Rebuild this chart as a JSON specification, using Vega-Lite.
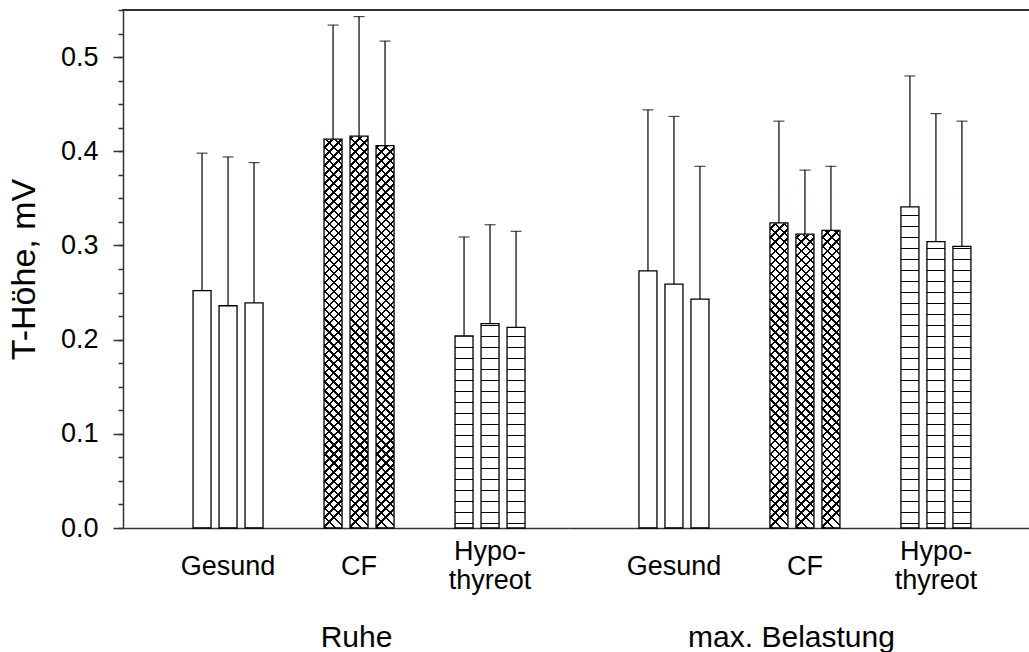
{
"$schema": "https://vega.github.io/schema/vega-lite/v6.json",
"padding": {"left": 7, "top": 8, "right": 0, "bottom": 0},
"spacing": 0,
"bounds": "flush",
"config": {"font": "Liberation Sans", "view": {"stroke": null}, "axis": {"labelColor": "#000", "titleColor": "#000", "grid": false, "titleFontWeight": "normal"}},
"data": {"values": [
{"phase":"Ruhe","group":"Gesund","series":1,"mean":0.252,"upper":0.398},
{"phase":"Ruhe","group":"Gesund","series":2,"mean":0.236,"upper":0.394},
{"phase":"Ruhe","group":"Gesund","series":3,"mean":0.239,"upper":0.388},
{"phase":"Ruhe","group":"CF","series":1,"mean":0.413,"upper":0.534},
{"phase":"Ruhe","group":"CF","series":2,"mean":0.416,"upper":0.543},
{"phase":"Ruhe","group":"CF","series":3,"mean":0.406,"upper":0.517},
{"phase":"Ruhe","group":"Hypothyreot","series":1,"mean":0.204,"upper":0.309},
{"phase":"Ruhe","group":"Hypothyreot","series":2,"mean":0.217,"upper":0.322},
{"phase":"Ruhe","group":"Hypothyreot","series":3,"mean":0.213,"upper":0.315},
{"phase":"max. Belastung","group":"Gesund","series":1,"mean":0.273,"upper":0.444},
{"phase":"max. Belastung","group":"Gesund","series":2,"mean":0.259,"upper":0.437},
{"phase":"max. Belastung","group":"Gesund","series":3,"mean":0.243,"upper":0.384},
{"phase":"max. Belastung","group":"CF","series":1,"mean":0.324,"upper":0.432},
{"phase":"max. Belastung","group":"CF","series":2,"mean":0.312,"upper":0.380},
{"phase":"max. Belastung","group":"CF","series":3,"mean":0.316,"upper":0.384},
{"phase":"max. Belastung","group":"Hypothyreot","series":1,"mean":0.341,"upper":0.480},
{"phase":"max. Belastung","group":"Hypothyreot","series":2,"mean":0.304,"upper":0.440},
{"phase":"max. Belastung","group":"Hypothyreot","series":3,"mean":0.299,"upper":0.432}
]},
"resolve": {"scale": {"x": "independent"}},
"hconcat": [
{
"width": 446, "height": 518,
"transform": [{"filter": "datum.phase == 'Ruhe'"}],
"resolve": {"axis": {"x": "independent", "y": "independent"}},
"layer": [
{"transform": [{"filter": "datum.group == 'CF'"}],
 "mark": {"type": "bar", "fill": {"gradient": "linear", "x1": 0, "y1": 1, "x2": 0.03475, "y2": 0, "stops": [
{"offset":0.0027,"color":"#fff"},{"offset":0.0027,"color":"#000"},{"offset":0.0073,"color":"#000"},{"offset":0.0073,"color":"#fff"},
{"offset":0.0201,"color":"#fff"},{"offset":0.0201,"color":"#000"},{"offset":0.0247,"color":"#000"},{"offset":0.0247,"color":"#fff"},
{"offset":0.0375,"color":"#fff"},{"offset":0.0375,"color":"#000"},{"offset":0.0421,"color":"#000"},{"offset":0.0421,"color":"#fff"},
{"offset":0.0549,"color":"#fff"},{"offset":0.0549,"color":"#000"},{"offset":0.0595,"color":"#000"},{"offset":0.0595,"color":"#fff"},
{"offset":0.0723,"color":"#fff"},{"offset":0.0723,"color":"#000"},{"offset":0.0769,"color":"#000"},{"offset":0.0769,"color":"#fff"},
{"offset":0.0897,"color":"#fff"},{"offset":0.0897,"color":"#000"},{"offset":0.0943,"color":"#000"},{"offset":0.0943,"color":"#fff"},
{"offset":0.1071,"color":"#fff"},{"offset":0.1071,"color":"#000"},{"offset":0.1117,"color":"#000"},{"offset":0.1117,"color":"#fff"},
{"offset":0.1245,"color":"#fff"},{"offset":0.1245,"color":"#000"},{"offset":0.1291,"color":"#000"},{"offset":0.1291,"color":"#fff"},
{"offset":0.1419,"color":"#fff"},{"offset":0.1419,"color":"#000"},{"offset":0.1465,"color":"#000"},{"offset":0.1465,"color":"#fff"},
{"offset":0.1593,"color":"#fff"},{"offset":0.1593,"color":"#000"},{"offset":0.1639,"color":"#000"},{"offset":0.1639,"color":"#fff"},
{"offset":0.1767,"color":"#fff"},{"offset":0.1767,"color":"#000"},{"offset":0.1813,"color":"#000"},{"offset":0.1813,"color":"#fff"},
{"offset":0.1941,"color":"#fff"},{"offset":0.1941,"color":"#000"},{"offset":0.1987,"color":"#000"},{"offset":0.1987,"color":"#fff"},
{"offset":0.2115,"color":"#fff"},{"offset":0.2115,"color":"#000"},{"offset":0.2161,"color":"#000"},{"offset":0.2161,"color":"#fff"},
{"offset":0.2289,"color":"#fff"},{"offset":0.2289,"color":"#000"},{"offset":0.2335,"color":"#000"},{"offset":0.2335,"color":"#fff"},
{"offset":0.2463,"color":"#fff"},{"offset":0.2463,"color":"#000"},{"offset":0.2509,"color":"#000"},{"offset":0.2509,"color":"#fff"},
{"offset":0.2637,"color":"#fff"},{"offset":0.2637,"color":"#000"},{"offset":0.2683,"color":"#000"},{"offset":0.2683,"color":"#fff"},
{"offset":0.2811,"color":"#fff"},{"offset":0.2811,"color":"#000"},{"offset":0.2857,"color":"#000"},{"offset":0.2857,"color":"#fff"},
{"offset":0.2985,"color":"#fff"},{"offset":0.2985,"color":"#000"},{"offset":0.3031,"color":"#000"},{"offset":0.3031,"color":"#fff"},
{"offset":0.3159,"color":"#fff"},{"offset":0.3159,"color":"#000"},{"offset":0.3205,"color":"#000"},{"offset":0.3205,"color":"#fff"},
{"offset":0.3333,"color":"#fff"},{"offset":0.3333,"color":"#000"},{"offset":0.3379,"color":"#000"},{"offset":0.3379,"color":"#fff"},
{"offset":0.3507,"color":"#fff"},{"offset":0.3507,"color":"#000"},{"offset":0.3553,"color":"#000"},{"offset":0.3553,"color":"#fff"},
{"offset":0.3681,"color":"#fff"},{"offset":0.3681,"color":"#000"},{"offset":0.3727,"color":"#000"},{"offset":0.3727,"color":"#fff"},
{"offset":0.3855,"color":"#fff"},{"offset":0.3855,"color":"#000"},{"offset":0.3901,"color":"#000"},{"offset":0.3901,"color":"#fff"},
{"offset":0.4029,"color":"#fff"},{"offset":0.4029,"color":"#000"},{"offset":0.4075,"color":"#000"},{"offset":0.4075,"color":"#fff"},
{"offset":0.4203,"color":"#fff"},{"offset":0.4203,"color":"#000"},{"offset":0.4249,"color":"#000"},{"offset":0.4249,"color":"#fff"},
{"offset":0.4377,"color":"#fff"},{"offset":0.4377,"color":"#000"},{"offset":0.4423,"color":"#000"},{"offset":0.4423,"color":"#fff"},
{"offset":0.4551,"color":"#fff"},{"offset":0.4551,"color":"#000"},{"offset":0.4597,"color":"#000"},{"offset":0.4597,"color":"#fff"},
{"offset":0.4725,"color":"#fff"},{"offset":0.4725,"color":"#000"},{"offset":0.4771,"color":"#000"},{"offset":0.4771,"color":"#fff"},
{"offset":0.4899,"color":"#fff"},{"offset":0.4899,"color":"#000"},{"offset":0.4945,"color":"#000"},{"offset":0.4945,"color":"#fff"},
{"offset":0.5073,"color":"#fff"},{"offset":0.5073,"color":"#000"},{"offset":0.5119,"color":"#000"},{"offset":0.5119,"color":"#fff"},
{"offset":0.5247,"color":"#fff"},{"offset":0.5247,"color":"#000"},{"offset":0.5293,"color":"#000"},{"offset":0.5293,"color":"#fff"},
{"offset":0.5421,"color":"#fff"},{"offset":0.5421,"color":"#000"},{"offset":0.5467,"color":"#000"},{"offset":0.5467,"color":"#fff"},
{"offset":0.5595,"color":"#fff"},{"offset":0.5595,"color":"#000"},{"offset":0.5641,"color":"#000"},{"offset":0.5641,"color":"#fff"},
{"offset":0.5769,"color":"#fff"},{"offset":0.5769,"color":"#000"},{"offset":0.5815,"color":"#000"},{"offset":0.5815,"color":"#fff"},
{"offset":0.5943,"color":"#fff"},{"offset":0.5943,"color":"#000"},{"offset":0.5989,"color":"#000"},{"offset":0.5989,"color":"#fff"},
{"offset":0.6117,"color":"#fff"},{"offset":0.6117,"color":"#000"},{"offset":0.6163,"color":"#000"},{"offset":0.6163,"color":"#fff"},
{"offset":0.6291,"color":"#fff"},{"offset":0.6291,"color":"#000"},{"offset":0.6337,"color":"#000"},{"offset":0.6337,"color":"#fff"},
{"offset":0.6465,"color":"#fff"},{"offset":0.6465,"color":"#000"},{"offset":0.6511,"color":"#000"},{"offset":0.6511,"color":"#fff"},
{"offset":0.6639,"color":"#fff"},{"offset":0.6639,"color":"#000"},{"offset":0.6685,"color":"#000"},{"offset":0.6685,"color":"#fff"},
{"offset":0.6813,"color":"#fff"},{"offset":0.6813,"color":"#000"},{"offset":0.6859,"color":"#000"},{"offset":0.6859,"color":"#fff"},
{"offset":0.6987,"color":"#fff"},{"offset":0.6987,"color":"#000"},{"offset":0.7033,"color":"#000"},{"offset":0.7033,"color":"#fff"},
{"offset":0.7161,"color":"#fff"},{"offset":0.7161,"color":"#000"},{"offset":0.7207,"color":"#000"},{"offset":0.7207,"color":"#fff"},
{"offset":0.7335,"color":"#fff"},{"offset":0.7335,"color":"#000"},{"offset":0.7381,"color":"#000"},{"offset":0.7381,"color":"#fff"},
{"offset":0.7509,"color":"#fff"},{"offset":0.7509,"color":"#000"},{"offset":0.7555,"color":"#000"},{"offset":0.7555,"color":"#fff"},
{"offset":0.7683,"color":"#fff"},{"offset":0.7683,"color":"#000"},{"offset":0.7729,"color":"#000"},{"offset":0.7729,"color":"#fff"},
{"offset":0.7857,"color":"#fff"},{"offset":0.7857,"color":"#000"},{"offset":0.7903,"color":"#000"},{"offset":0.7903,"color":"#fff"},
{"offset":0.8031,"color":"#fff"},{"offset":0.8031,"color":"#000"},{"offset":0.8077,"color":"#000"},{"offset":0.8077,"color":"#fff"}
]}},
 "encoding": {
  "x": {"field": "group", "type": "nominal", "scale": {"domain": ["Gesund","CF","Hypothyreot"], "paddingInner": 0.4046, "paddingOuter": 0.4046, "align": 0.623}, "axis": null},
  "xOffset": {"field": "series", "type": "nominal", "scale": {"paddingInner": 0.3077, "paddingOuter": 0.1538}},
  "y": {"datum": 0.55, "type": "quantitative", "scale": {"domain": [0, 0.55], "nice": false, "zero": true}, "axis": null},
  "y2": {"datum": 0}
 }},
{"transform": [{"filter": "datum.group == 'CF'"}],
 "mark": {"type": "bar", "fill": {"gradient": "linear", "x1": 0, "y1": 0, "x2": 0.03475, "y2": 1, "stops": [
{"offset":0.2289,"color":"transparent"},{"offset":0.2289,"color":"#000"},{"offset":0.2335,"color":"#000"},{"offset":0.2335,"color":"transparent"},
{"offset":0.2463,"color":"transparent"},{"offset":0.2463,"color":"#000"},{"offset":0.2509,"color":"#000"},{"offset":0.2509,"color":"transparent"},
{"offset":0.2637,"color":"transparent"},{"offset":0.2637,"color":"#000"},{"offset":0.2683,"color":"#000"},{"offset":0.2683,"color":"transparent"},
{"offset":0.2811,"color":"transparent"},{"offset":0.2811,"color":"#000"},{"offset":0.2857,"color":"#000"},{"offset":0.2857,"color":"transparent"},
{"offset":0.2985,"color":"transparent"},{"offset":0.2985,"color":"#000"},{"offset":0.3031,"color":"#000"},{"offset":0.3031,"color":"transparent"},
{"offset":0.3159,"color":"transparent"},{"offset":0.3159,"color":"#000"},{"offset":0.3205,"color":"#000"},{"offset":0.3205,"color":"transparent"},
{"offset":0.3333,"color":"transparent"},{"offset":0.3333,"color":"#000"},{"offset":0.3379,"color":"#000"},{"offset":0.3379,"color":"transparent"},
{"offset":0.3507,"color":"transparent"},{"offset":0.3507,"color":"#000"},{"offset":0.3553,"color":"#000"},{"offset":0.3553,"color":"transparent"},
{"offset":0.3681,"color":"transparent"},{"offset":0.3681,"color":"#000"},{"offset":0.3727,"color":"#000"},{"offset":0.3727,"color":"transparent"},
{"offset":0.3855,"color":"transparent"},{"offset":0.3855,"color":"#000"},{"offset":0.3901,"color":"#000"},{"offset":0.3901,"color":"transparent"},
{"offset":0.4029,"color":"transparent"},{"offset":0.4029,"color":"#000"},{"offset":0.4075,"color":"#000"},{"offset":0.4075,"color":"transparent"},
{"offset":0.4203,"color":"transparent"},{"offset":0.4203,"color":"#000"},{"offset":0.4249,"color":"#000"},{"offset":0.4249,"color":"transparent"},
{"offset":0.4377,"color":"transparent"},{"offset":0.4377,"color":"#000"},{"offset":0.4423,"color":"#000"},{"offset":0.4423,"color":"transparent"},
{"offset":0.4551,"color":"transparent"},{"offset":0.4551,"color":"#000"},{"offset":0.4597,"color":"#000"},{"offset":0.4597,"color":"transparent"},
{"offset":0.4725,"color":"transparent"},{"offset":0.4725,"color":"#000"},{"offset":0.4771,"color":"#000"},{"offset":0.4771,"color":"transparent"},
{"offset":0.4899,"color":"transparent"},{"offset":0.4899,"color":"#000"},{"offset":0.4945,"color":"#000"},{"offset":0.4945,"color":"transparent"},
{"offset":0.5073,"color":"transparent"},{"offset":0.5073,"color":"#000"},{"offset":0.5119,"color":"#000"},{"offset":0.5119,"color":"transparent"},
{"offset":0.5247,"color":"transparent"},{"offset":0.5247,"color":"#000"},{"offset":0.5293,"color":"#000"},{"offset":0.5293,"color":"transparent"},
{"offset":0.5421,"color":"transparent"},{"offset":0.5421,"color":"#000"},{"offset":0.5467,"color":"#000"},{"offset":0.5467,"color":"transparent"},
{"offset":0.5595,"color":"transparent"},{"offset":0.5595,"color":"#000"},{"offset":0.5641,"color":"#000"},{"offset":0.5641,"color":"transparent"},
{"offset":0.5769,"color":"transparent"},{"offset":0.5769,"color":"#000"},{"offset":0.5815,"color":"#000"},{"offset":0.5815,"color":"transparent"},
{"offset":0.5943,"color":"transparent"},{"offset":0.5943,"color":"#000"},{"offset":0.5989,"color":"#000"},{"offset":0.5989,"color":"transparent"},
{"offset":0.6117,"color":"transparent"},{"offset":0.6117,"color":"#000"},{"offset":0.6163,"color":"#000"},{"offset":0.6163,"color":"transparent"},
{"offset":0.6291,"color":"transparent"},{"offset":0.6291,"color":"#000"},{"offset":0.6337,"color":"#000"},{"offset":0.6337,"color":"transparent"},
{"offset":0.6465,"color":"transparent"},{"offset":0.6465,"color":"#000"},{"offset":0.6511,"color":"#000"},{"offset":0.6511,"color":"transparent"},
{"offset":0.6639,"color":"transparent"},{"offset":0.6639,"color":"#000"},{"offset":0.6685,"color":"#000"},{"offset":0.6685,"color":"transparent"},
{"offset":0.6813,"color":"transparent"},{"offset":0.6813,"color":"#000"},{"offset":0.6859,"color":"#000"},{"offset":0.6859,"color":"transparent"},
{"offset":0.6987,"color":"transparent"},{"offset":0.6987,"color":"#000"},{"offset":0.7033,"color":"#000"},{"offset":0.7033,"color":"transparent"},
{"offset":0.7161,"color":"transparent"},{"offset":0.7161,"color":"#000"},{"offset":0.7207,"color":"#000"},{"offset":0.7207,"color":"transparent"},
{"offset":0.7335,"color":"transparent"},{"offset":0.7335,"color":"#000"},{"offset":0.7381,"color":"#000"},{"offset":0.7381,"color":"transparent"},
{"offset":0.7509,"color":"transparent"},{"offset":0.7509,"color":"#000"},{"offset":0.7555,"color":"#000"},{"offset":0.7555,"color":"transparent"},
{"offset":0.7683,"color":"transparent"},{"offset":0.7683,"color":"#000"},{"offset":0.7729,"color":"#000"},{"offset":0.7729,"color":"transparent"},
{"offset":0.7857,"color":"transparent"},{"offset":0.7857,"color":"#000"},{"offset":0.7903,"color":"#000"},{"offset":0.7903,"color":"transparent"},
{"offset":0.8031,"color":"transparent"},{"offset":0.8031,"color":"#000"},{"offset":0.8077,"color":"#000"},{"offset":0.8077,"color":"transparent"},
{"offset":0.8205,"color":"transparent"},{"offset":0.8205,"color":"#000"},{"offset":0.8251,"color":"#000"},{"offset":0.8251,"color":"transparent"},
{"offset":0.8379,"color":"transparent"},{"offset":0.8379,"color":"#000"},{"offset":0.8425,"color":"#000"},{"offset":0.8425,"color":"transparent"},
{"offset":0.8553,"color":"transparent"},{"offset":0.8553,"color":"#000"},{"offset":0.8599,"color":"#000"},{"offset":0.8599,"color":"transparent"},
{"offset":0.8727,"color":"transparent"},{"offset":0.8727,"color":"#000"},{"offset":0.8773,"color":"#000"},{"offset":0.8773,"color":"transparent"},
{"offset":0.8901,"color":"transparent"},{"offset":0.8901,"color":"#000"},{"offset":0.8947,"color":"#000"},{"offset":0.8947,"color":"transparent"},
{"offset":0.9075,"color":"transparent"},{"offset":0.9075,"color":"#000"},{"offset":0.9121,"color":"#000"},{"offset":0.9121,"color":"transparent"},
{"offset":0.9249,"color":"transparent"},{"offset":0.9249,"color":"#000"},{"offset":0.9295,"color":"#000"},{"offset":0.9295,"color":"transparent"},
{"offset":0.9423,"color":"transparent"},{"offset":0.9423,"color":"#000"},{"offset":0.9469,"color":"#000"},{"offset":0.9469,"color":"transparent"},
{"offset":0.9597,"color":"transparent"},{"offset":0.9597,"color":"#000"},{"offset":0.9643,"color":"#000"},{"offset":0.9643,"color":"transparent"},
{"offset":0.9771,"color":"transparent"},{"offset":0.9771,"color":"#000"},{"offset":0.9817,"color":"#000"},{"offset":0.9817,"color":"transparent"},
{"offset":0.9945,"color":"transparent"},{"offset":0.9945,"color":"#000"},{"offset":0.9991,"color":"#000"},{"offset":0.9991,"color":"transparent"}
]}},
 "encoding": {
  "x": {"field": "group", "type": "nominal", "scale": {"domain": ["Gesund","CF","Hypothyreot"], "paddingInner": 0.4046, "paddingOuter": 0.4046, "align": 0.623}, "axis": null},
  "xOffset": {"field": "series", "type": "nominal", "scale": {"paddingInner": 0.3077, "paddingOuter": 0.1538}},
  "y": {"datum": 0.55, "type": "quantitative", "scale": {"domain": [0, 0.55], "nice": false, "zero": true}, "axis": null},
  "y2": {"datum": 0}
 }},
{"transform": [{"filter": "datum.group == 'Hypothyreot'"}],
 "mark": {"type": "bar", "fill": {"gradient": "linear", "x1": 0, "y1": 0, "x2": 0, "y2": 1, "stops": [
{"offset":0.5656,"color":"#fff"},{"offset":0.5656,"color":"#000"},{"offset":0.5682,"color":"#000"},{"offset":0.5682,"color":"#fff"},
{"offset":0.5868,"color":"#fff"},{"offset":0.5868,"color":"#000"},{"offset":0.5894,"color":"#000"},{"offset":0.5894,"color":"#fff"},
{"offset":0.6080,"color":"#fff"},{"offset":0.6080,"color":"#000"},{"offset":0.6106,"color":"#000"},{"offset":0.6106,"color":"#fff"},
{"offset":0.6292,"color":"#fff"},{"offset":0.6292,"color":"#000"},{"offset":0.6318,"color":"#000"},{"offset":0.6318,"color":"#fff"},
{"offset":0.6504,"color":"#fff"},{"offset":0.6504,"color":"#000"},{"offset":0.6530,"color":"#000"},{"offset":0.6530,"color":"#fff"},
{"offset":0.6716,"color":"#fff"},{"offset":0.6716,"color":"#000"},{"offset":0.6742,"color":"#000"},{"offset":0.6742,"color":"#fff"},
{"offset":0.6928,"color":"#fff"},{"offset":0.6928,"color":"#000"},{"offset":0.6954,"color":"#000"},{"offset":0.6954,"color":"#fff"},
{"offset":0.7140,"color":"#fff"},{"offset":0.7140,"color":"#000"},{"offset":0.7166,"color":"#000"},{"offset":0.7166,"color":"#fff"},
{"offset":0.7352,"color":"#fff"},{"offset":0.7352,"color":"#000"},{"offset":0.7378,"color":"#000"},{"offset":0.7378,"color":"#fff"},
{"offset":0.7564,"color":"#fff"},{"offset":0.7564,"color":"#000"},{"offset":0.7590,"color":"#000"},{"offset":0.7590,"color":"#fff"},
{"offset":0.7776,"color":"#fff"},{"offset":0.7776,"color":"#000"},{"offset":0.7802,"color":"#000"},{"offset":0.7802,"color":"#fff"},
{"offset":0.7988,"color":"#fff"},{"offset":0.7988,"color":"#000"},{"offset":0.8014,"color":"#000"},{"offset":0.8014,"color":"#fff"},
{"offset":0.8200,"color":"#fff"},{"offset":0.8200,"color":"#000"},{"offset":0.8226,"color":"#000"},{"offset":0.8226,"color":"#fff"},
{"offset":0.8412,"color":"#fff"},{"offset":0.8412,"color":"#000"},{"offset":0.8438,"color":"#000"},{"offset":0.8438,"color":"#fff"},
{"offset":0.8624,"color":"#fff"},{"offset":0.8624,"color":"#000"},{"offset":0.8650,"color":"#000"},{"offset":0.8650,"color":"#fff"},
{"offset":0.8836,"color":"#fff"},{"offset":0.8836,"color":"#000"},{"offset":0.8862,"color":"#000"},{"offset":0.8862,"color":"#fff"},
{"offset":0.9048,"color":"#fff"},{"offset":0.9048,"color":"#000"},{"offset":0.9074,"color":"#000"},{"offset":0.9074,"color":"#fff"},
{"offset":0.9260,"color":"#fff"},{"offset":0.9260,"color":"#000"},{"offset":0.9286,"color":"#000"},{"offset":0.9286,"color":"#fff"},
{"offset":0.9472,"color":"#fff"},{"offset":0.9472,"color":"#000"},{"offset":0.9498,"color":"#000"},{"offset":0.9498,"color":"#fff"},
{"offset":0.9684,"color":"#fff"},{"offset":0.9684,"color":"#000"},{"offset":0.9710,"color":"#000"},{"offset":0.9710,"color":"#fff"},
{"offset":0.9896,"color":"#fff"},{"offset":0.9896,"color":"#000"},{"offset":0.9922,"color":"#000"},{"offset":0.9922,"color":"#fff"}
]}},
 "encoding": {
  "x": {"field": "group", "type": "nominal", "scale": {"domain": ["Gesund","CF","Hypothyreot"], "paddingInner": 0.4046, "paddingOuter": 0.4046, "align": 0.623}, "axis": null},
  "xOffset": {"field": "series", "type": "nominal", "scale": {"paddingInner": 0.3077, "paddingOuter": 0.1538}},
  "y": {"datum": 0.55, "type": "quantitative", "scale": {"domain": [0, 0.55], "nice": false, "zero": true}, "axis": null},
  "y2": {"datum": 0}
 }},
{"transform": [{"filter": "datum.group != 'Gesund'"}],
 "mark": {"type": "bar", "fill": "#fff", "stroke": "#fff", "strokeWidth": 1},
 "encoding": {
  "x": {"field": "group", "type": "nominal", "scale": {"domain": ["Gesund","CF","Hypothyreot"], "paddingInner": 0.4046, "paddingOuter": 0.4046, "align": 0.623}, "axis": null},
  "xOffset": {"field": "series", "type": "nominal", "scale": {"paddingInner": 0.3077, "paddingOuter": 0.1538}},
  "y": {"field": "mean", "type": "quantitative", "scale": {"domain": [0, 0.55], "nice": false, "zero": true}, "axis": null},
  "y2": {"datum": 0.55}
 }},
{"mark": {"type": "bar", "filled": false, "stroke": "#000", "strokeWidth": 1.3},
 "encoding": {
  "x": {"field": "group", "type": "nominal", "scale": {"domain": ["Gesund","CF","Hypothyreot"], "paddingInner": 0.4046, "paddingOuter": 0.4046, "align": 0.623},
        "axis": {"orient": "bottom", "title": "Ruhe", "labelExpr": "datum.value == 'Hypothyreot' ? '' : datum.value", "labelFontSize": 27, "labelBaseline": "middle", "labelPadding": 38, "labelAngle": 0, "ticks": false, "tickSize": 0, "domainColor": "#333", "domainWidth": 1.5, "titleFontSize": 30, "titleBaseline": "alphabetic", "titleY": 118, "titleX": 233}},
  "xOffset": {"field": "series", "type": "nominal", "scale": {"paddingInner": 0.3077, "paddingOuter": 0.1538}},
  "y": {"field": "mean", "type": "quantitative", "scale": {"domain": [0, 0.55], "nice": false, "zero": true},
        "axis": {"orient": "left", "values": [0, 0.1, 0.2, 0.3, 0.4, 0.5], "format": ".1f", "tickSize": 10, "tickWidth": 1.5, "tickColor": "#333", "domainColor": "#333", "domainWidth": 1.5, "labelFontSize": 27, "labelPadding": 15, "title": "T-Höhe, mV", "titleFontSize": 34, "titlePadding": 19}}
 }},
{"mark": {"type": "rule", "color": "#000", "strokeWidth": 1.2},
 "encoding": {
  "x": {"field": "group", "type": "nominal", "scale": {"domain": ["Gesund","CF","Hypothyreot"], "paddingInner": 0.4046, "paddingOuter": 0.4046, "align": 0.623}, "axis": null},
  "xOffset": {"field": "series", "type": "nominal", "scale": {"paddingInner": 0.3077, "paddingOuter": 0.1538}},
  "y": {"field": "mean", "type": "quantitative", "scale": {"domain": [0, 0.55], "nice": false, "zero": true}, "axis": null},
  "y2": {"field": "upper"}
 }},
{"mark": {"type": "tick", "color": "#000", "size": 11, "thickness": 1.2, "orient": "horizontal"},
 "encoding": {
  "x": {"field": "group", "type": "nominal", "scale": {"domain": ["Gesund","CF","Hypothyreot"], "paddingInner": 0.4046, "paddingOuter": 0.4046, "align": 0.623}, "axis": null},
  "xOffset": {"field": "series", "type": "nominal", "scale": {"paddingInner": 0.3077, "paddingOuter": 0.1538}},
  "y": {"field": "upper", "type": "quantitative", "scale": {"domain": [0, 0.55], "nice": false, "zero": true}, "axis": null}
 }},
{"transform": [{"filter": "datum.group == 'Hypothyreot' && datum.series == 2"}],
 "mark": {"type": "text", "text": ["Hypo-", "thyreot"], "lineHeight": 29, "baseline": "middle", "align": "center", "dy": 24, "fontSize": 27, "color": "#000"},
 "encoding": {
  "x": {"field": "group", "type": "nominal", "scale": {"domain": ["Gesund","CF","Hypothyreot"], "paddingInner": 0.4046, "paddingOuter": 0.4046, "align": 0.623}, "axis": null},
  "y": {"datum": 0, "type": "quantitative", "scale": {"domain": [0, 0.55], "nice": false, "zero": true}, "axis": null}
 }},
{"mark": {"type": "rule", "color": "#333", "strokeWidth": 1.5, "strokeCap": "square"},
 "encoding": {
  "y": {"datum": 0.55, "type": "quantitative", "scale": {"domain": [0, 0.55], "nice": false, "zero": true},
        "axis": {"orient": "left", "values": [0, 0.025, 0.05, 0.075, 0.1, 0.125, 0.15, 0.175, 0.2, 0.225, 0.25, 0.275, 0.3, 0.325, 0.35, 0.375, 0.4, 0.425, 0.45, 0.475, 0.5, 0.525, 0.55], "tickSize": 5, "tickWidth": 1.5, "tickColor": "#333", "labels": false, "domain": false, "title": null}}
 }}
]
},
{
"width": 461, "height": 518,
"transform": [{"filter": "datum.phase == 'max. Belastung'"}],
"resolve": {"axis": {"x": "independent"}},
"layer": [
{"transform": [{"filter": "datum.group == 'CF'"}],
 "mark": {"type": "bar", "fill": {"gradient": "linear", "x1": 0, "y1": 1, "x2": 0.03475, "y2": 0, "stops": [
{"offset":0.0027,"color":"#fff"},{"offset":0.0027,"color":"#000"},{"offset":0.0073,"color":"#000"},{"offset":0.0073,"color":"#fff"},
{"offset":0.0201,"color":"#fff"},{"offset":0.0201,"color":"#000"},{"offset":0.0247,"color":"#000"},{"offset":0.0247,"color":"#fff"},
{"offset":0.0375,"color":"#fff"},{"offset":0.0375,"color":"#000"},{"offset":0.0421,"color":"#000"},{"offset":0.0421,"color":"#fff"},
{"offset":0.0549,"color":"#fff"},{"offset":0.0549,"color":"#000"},{"offset":0.0595,"color":"#000"},{"offset":0.0595,"color":"#fff"},
{"offset":0.0723,"color":"#fff"},{"offset":0.0723,"color":"#000"},{"offset":0.0769,"color":"#000"},{"offset":0.0769,"color":"#fff"},
{"offset":0.0897,"color":"#fff"},{"offset":0.0897,"color":"#000"},{"offset":0.0943,"color":"#000"},{"offset":0.0943,"color":"#fff"},
{"offset":0.1071,"color":"#fff"},{"offset":0.1071,"color":"#000"},{"offset":0.1117,"color":"#000"},{"offset":0.1117,"color":"#fff"},
{"offset":0.1245,"color":"#fff"},{"offset":0.1245,"color":"#000"},{"offset":0.1291,"color":"#000"},{"offset":0.1291,"color":"#fff"},
{"offset":0.1419,"color":"#fff"},{"offset":0.1419,"color":"#000"},{"offset":0.1465,"color":"#000"},{"offset":0.1465,"color":"#fff"},
{"offset":0.1593,"color":"#fff"},{"offset":0.1593,"color":"#000"},{"offset":0.1639,"color":"#000"},{"offset":0.1639,"color":"#fff"},
{"offset":0.1767,"color":"#fff"},{"offset":0.1767,"color":"#000"},{"offset":0.1813,"color":"#000"},{"offset":0.1813,"color":"#fff"},
{"offset":0.1941,"color":"#fff"},{"offset":0.1941,"color":"#000"},{"offset":0.1987,"color":"#000"},{"offset":0.1987,"color":"#fff"},
{"offset":0.2115,"color":"#fff"},{"offset":0.2115,"color":"#000"},{"offset":0.2161,"color":"#000"},{"offset":0.2161,"color":"#fff"},
{"offset":0.2289,"color":"#fff"},{"offset":0.2289,"color":"#000"},{"offset":0.2335,"color":"#000"},{"offset":0.2335,"color":"#fff"},
{"offset":0.2463,"color":"#fff"},{"offset":0.2463,"color":"#000"},{"offset":0.2509,"color":"#000"},{"offset":0.2509,"color":"#fff"},
{"offset":0.2637,"color":"#fff"},{"offset":0.2637,"color":"#000"},{"offset":0.2683,"color":"#000"},{"offset":0.2683,"color":"#fff"},
{"offset":0.2811,"color":"#fff"},{"offset":0.2811,"color":"#000"},{"offset":0.2857,"color":"#000"},{"offset":0.2857,"color":"#fff"},
{"offset":0.2985,"color":"#fff"},{"offset":0.2985,"color":"#000"},{"offset":0.3031,"color":"#000"},{"offset":0.3031,"color":"#fff"},
{"offset":0.3159,"color":"#fff"},{"offset":0.3159,"color":"#000"},{"offset":0.3205,"color":"#000"},{"offset":0.3205,"color":"#fff"},
{"offset":0.3333,"color":"#fff"},{"offset":0.3333,"color":"#000"},{"offset":0.3379,"color":"#000"},{"offset":0.3379,"color":"#fff"},
{"offset":0.3507,"color":"#fff"},{"offset":0.3507,"color":"#000"},{"offset":0.3553,"color":"#000"},{"offset":0.3553,"color":"#fff"},
{"offset":0.3681,"color":"#fff"},{"offset":0.3681,"color":"#000"},{"offset":0.3727,"color":"#000"},{"offset":0.3727,"color":"#fff"},
{"offset":0.3855,"color":"#fff"},{"offset":0.3855,"color":"#000"},{"offset":0.3901,"color":"#000"},{"offset":0.3901,"color":"#fff"},
{"offset":0.4029,"color":"#fff"},{"offset":0.4029,"color":"#000"},{"offset":0.4075,"color":"#000"},{"offset":0.4075,"color":"#fff"},
{"offset":0.4203,"color":"#fff"},{"offset":0.4203,"color":"#000"},{"offset":0.4249,"color":"#000"},{"offset":0.4249,"color":"#fff"},
{"offset":0.4377,"color":"#fff"},{"offset":0.4377,"color":"#000"},{"offset":0.4423,"color":"#000"},{"offset":0.4423,"color":"#fff"},
{"offset":0.4551,"color":"#fff"},{"offset":0.4551,"color":"#000"},{"offset":0.4597,"color":"#000"},{"offset":0.4597,"color":"#fff"},
{"offset":0.4725,"color":"#fff"},{"offset":0.4725,"color":"#000"},{"offset":0.4771,"color":"#000"},{"offset":0.4771,"color":"#fff"},
{"offset":0.4899,"color":"#fff"},{"offset":0.4899,"color":"#000"},{"offset":0.4945,"color":"#000"},{"offset":0.4945,"color":"#fff"},
{"offset":0.5073,"color":"#fff"},{"offset":0.5073,"color":"#000"},{"offset":0.5119,"color":"#000"},{"offset":0.5119,"color":"#fff"},
{"offset":0.5247,"color":"#fff"},{"offset":0.5247,"color":"#000"},{"offset":0.5293,"color":"#000"},{"offset":0.5293,"color":"#fff"},
{"offset":0.5421,"color":"#fff"},{"offset":0.5421,"color":"#000"},{"offset":0.5467,"color":"#000"},{"offset":0.5467,"color":"#fff"},
{"offset":0.5595,"color":"#fff"},{"offset":0.5595,"color":"#000"},{"offset":0.5641,"color":"#000"},{"offset":0.5641,"color":"#fff"},
{"offset":0.5769,"color":"#fff"},{"offset":0.5769,"color":"#000"},{"offset":0.5815,"color":"#000"},{"offset":0.5815,"color":"#fff"},
{"offset":0.5943,"color":"#fff"},{"offset":0.5943,"color":"#000"},{"offset":0.5989,"color":"#000"},{"offset":0.5989,"color":"#fff"},
{"offset":0.6117,"color":"#fff"},{"offset":0.6117,"color":"#000"},{"offset":0.6163,"color":"#000"},{"offset":0.6163,"color":"#fff"},
{"offset":0.6291,"color":"#fff"},{"offset":0.6291,"color":"#000"},{"offset":0.6337,"color":"#000"},{"offset":0.6337,"color":"#fff"},
{"offset":0.6465,"color":"#fff"},{"offset":0.6465,"color":"#000"},{"offset":0.6511,"color":"#000"},{"offset":0.6511,"color":"#fff"}
]}},
 "encoding": {
  "x": {"field": "group", "type": "nominal", "scale": {"domain": ["Gesund","CF","Hypothyreot"], "paddingInner": 0.4046, "paddingOuter": 0.462, "align": 0.545}, "axis": null},
  "xOffset": {"field": "series", "type": "nominal", "scale": {"paddingInner": 0.3077, "paddingOuter": 0.1538}},
  "y": {"datum": 0.55, "type": "quantitative", "scale": {"domain": [0, 0.55], "nice": false, "zero": true}, "axis": null},
  "y2": {"datum": 0}
 }},
{"transform": [{"filter": "datum.group == 'CF'"}],
 "mark": {"type": "bar", "fill": {"gradient": "linear", "x1": 0, "y1": 0, "x2": 0.03475, "y2": 1, "stops": [
{"offset":0.3855,"color":"transparent"},{"offset":0.3855,"color":"#000"},{"offset":0.3901,"color":"#000"},{"offset":0.3901,"color":"transparent"},
{"offset":0.4029,"color":"transparent"},{"offset":0.4029,"color":"#000"},{"offset":0.4075,"color":"#000"},{"offset":0.4075,"color":"transparent"},
{"offset":0.4203,"color":"transparent"},{"offset":0.4203,"color":"#000"},{"offset":0.4249,"color":"#000"},{"offset":0.4249,"color":"transparent"},
{"offset":0.4377,"color":"transparent"},{"offset":0.4377,"color":"#000"},{"offset":0.4423,"color":"#000"},{"offset":0.4423,"color":"transparent"},
{"offset":0.4551,"color":"transparent"},{"offset":0.4551,"color":"#000"},{"offset":0.4597,"color":"#000"},{"offset":0.4597,"color":"transparent"},
{"offset":0.4725,"color":"transparent"},{"offset":0.4725,"color":"#000"},{"offset":0.4771,"color":"#000"},{"offset":0.4771,"color":"transparent"},
{"offset":0.4899,"color":"transparent"},{"offset":0.4899,"color":"#000"},{"offset":0.4945,"color":"#000"},{"offset":0.4945,"color":"transparent"},
{"offset":0.5073,"color":"transparent"},{"offset":0.5073,"color":"#000"},{"offset":0.5119,"color":"#000"},{"offset":0.5119,"color":"transparent"},
{"offset":0.5247,"color":"transparent"},{"offset":0.5247,"color":"#000"},{"offset":0.5293,"color":"#000"},{"offset":0.5293,"color":"transparent"},
{"offset":0.5421,"color":"transparent"},{"offset":0.5421,"color":"#000"},{"offset":0.5467,"color":"#000"},{"offset":0.5467,"color":"transparent"},
{"offset":0.5595,"color":"transparent"},{"offset":0.5595,"color":"#000"},{"offset":0.5641,"color":"#000"},{"offset":0.5641,"color":"transparent"},
{"offset":0.5769,"color":"transparent"},{"offset":0.5769,"color":"#000"},{"offset":0.5815,"color":"#000"},{"offset":0.5815,"color":"transparent"},
{"offset":0.5943,"color":"transparent"},{"offset":0.5943,"color":"#000"},{"offset":0.5989,"color":"#000"},{"offset":0.5989,"color":"transparent"},
{"offset":0.6117,"color":"transparent"},{"offset":0.6117,"color":"#000"},{"offset":0.6163,"color":"#000"},{"offset":0.6163,"color":"transparent"},
{"offset":0.6291,"color":"transparent"},{"offset":0.6291,"color":"#000"},{"offset":0.6337,"color":"#000"},{"offset":0.6337,"color":"transparent"},
{"offset":0.6465,"color":"transparent"},{"offset":0.6465,"color":"#000"},{"offset":0.6511,"color":"#000"},{"offset":0.6511,"color":"transparent"},
{"offset":0.6639,"color":"transparent"},{"offset":0.6639,"color":"#000"},{"offset":0.6685,"color":"#000"},{"offset":0.6685,"color":"transparent"},
{"offset":0.6813,"color":"transparent"},{"offset":0.6813,"color":"#000"},{"offset":0.6859,"color":"#000"},{"offset":0.6859,"color":"transparent"},
{"offset":0.6987,"color":"transparent"},{"offset":0.6987,"color":"#000"},{"offset":0.7033,"color":"#000"},{"offset":0.7033,"color":"transparent"},
{"offset":0.7161,"color":"transparent"},{"offset":0.7161,"color":"#000"},{"offset":0.7207,"color":"#000"},{"offset":0.7207,"color":"transparent"},
{"offset":0.7335,"color":"transparent"},{"offset":0.7335,"color":"#000"},{"offset":0.7381,"color":"#000"},{"offset":0.7381,"color":"transparent"},
{"offset":0.7509,"color":"transparent"},{"offset":0.7509,"color":"#000"},{"offset":0.7555,"color":"#000"},{"offset":0.7555,"color":"transparent"},
{"offset":0.7683,"color":"transparent"},{"offset":0.7683,"color":"#000"},{"offset":0.7729,"color":"#000"},{"offset":0.7729,"color":"transparent"},
{"offset":0.7857,"color":"transparent"},{"offset":0.7857,"color":"#000"},{"offset":0.7903,"color":"#000"},{"offset":0.7903,"color":"transparent"},
{"offset":0.8031,"color":"transparent"},{"offset":0.8031,"color":"#000"},{"offset":0.8077,"color":"#000"},{"offset":0.8077,"color":"transparent"},
{"offset":0.8205,"color":"transparent"},{"offset":0.8205,"color":"#000"},{"offset":0.8251,"color":"#000"},{"offset":0.8251,"color":"transparent"},
{"offset":0.8379,"color":"transparent"},{"offset":0.8379,"color":"#000"},{"offset":0.8425,"color":"#000"},{"offset":0.8425,"color":"transparent"},
{"offset":0.8553,"color":"transparent"},{"offset":0.8553,"color":"#000"},{"offset":0.8599,"color":"#000"},{"offset":0.8599,"color":"transparent"},
{"offset":0.8727,"color":"transparent"},{"offset":0.8727,"color":"#000"},{"offset":0.8773,"color":"#000"},{"offset":0.8773,"color":"transparent"},
{"offset":0.8901,"color":"transparent"},{"offset":0.8901,"color":"#000"},{"offset":0.8947,"color":"#000"},{"offset":0.8947,"color":"transparent"},
{"offset":0.9075,"color":"transparent"},{"offset":0.9075,"color":"#000"},{"offset":0.9121,"color":"#000"},{"offset":0.9121,"color":"transparent"},
{"offset":0.9249,"color":"transparent"},{"offset":0.9249,"color":"#000"},{"offset":0.9295,"color":"#000"},{"offset":0.9295,"color":"transparent"},
{"offset":0.9423,"color":"transparent"},{"offset":0.9423,"color":"#000"},{"offset":0.9469,"color":"#000"},{"offset":0.9469,"color":"transparent"},
{"offset":0.9597,"color":"transparent"},{"offset":0.9597,"color":"#000"},{"offset":0.9643,"color":"#000"},{"offset":0.9643,"color":"transparent"},
{"offset":0.9771,"color":"transparent"},{"offset":0.9771,"color":"#000"},{"offset":0.9817,"color":"#000"},{"offset":0.9817,"color":"transparent"},
{"offset":0.9945,"color":"transparent"},{"offset":0.9945,"color":"#000"},{"offset":0.9991,"color":"#000"},{"offset":0.9991,"color":"transparent"}
]}},
 "encoding": {
  "x": {"field": "group", "type": "nominal", "scale": {"domain": ["Gesund","CF","Hypothyreot"], "paddingInner": 0.4046, "paddingOuter": 0.462, "align": 0.545}, "axis": null},
  "xOffset": {"field": "series", "type": "nominal", "scale": {"paddingInner": 0.3077, "paddingOuter": 0.1538}},
  "y": {"datum": 0.55, "type": "quantitative", "scale": {"domain": [0, 0.55], "nice": false, "zero": true}, "axis": null},
  "y2": {"datum": 0}
 }},
{"transform": [{"filter": "datum.group == 'Hypothyreot'"}],
 "mark": {"type": "bar", "fill": {"gradient": "linear", "x1": 0, "y1": 0, "x2": 0, "y2": 1, "stops": [
{"offset":0.3536,"color":"#fff"},{"offset":0.3536,"color":"#000"},{"offset":0.3562,"color":"#000"},{"offset":0.3562,"color":"#fff"},
{"offset":0.3748,"color":"#fff"},{"offset":0.3748,"color":"#000"},{"offset":0.3774,"color":"#000"},{"offset":0.3774,"color":"#fff"},
{"offset":0.3960,"color":"#fff"},{"offset":0.3960,"color":"#000"},{"offset":0.3986,"color":"#000"},{"offset":0.3986,"color":"#fff"},
{"offset":0.4172,"color":"#fff"},{"offset":0.4172,"color":"#000"},{"offset":0.4198,"color":"#000"},{"offset":0.4198,"color":"#fff"},
{"offset":0.4384,"color":"#fff"},{"offset":0.4384,"color":"#000"},{"offset":0.4410,"color":"#000"},{"offset":0.4410,"color":"#fff"},
{"offset":0.4596,"color":"#fff"},{"offset":0.4596,"color":"#000"},{"offset":0.4622,"color":"#000"},{"offset":0.4622,"color":"#fff"},
{"offset":0.4808,"color":"#fff"},{"offset":0.4808,"color":"#000"},{"offset":0.4834,"color":"#000"},{"offset":0.4834,"color":"#fff"},
{"offset":0.5020,"color":"#fff"},{"offset":0.5020,"color":"#000"},{"offset":0.5046,"color":"#000"},{"offset":0.5046,"color":"#fff"},
{"offset":0.5232,"color":"#fff"},{"offset":0.5232,"color":"#000"},{"offset":0.5258,"color":"#000"},{"offset":0.5258,"color":"#fff"},
{"offset":0.5444,"color":"#fff"},{"offset":0.5444,"color":"#000"},{"offset":0.5470,"color":"#000"},{"offset":0.5470,"color":"#fff"},
{"offset":0.5656,"color":"#fff"},{"offset":0.5656,"color":"#000"},{"offset":0.5682,"color":"#000"},{"offset":0.5682,"color":"#fff"},
{"offset":0.5868,"color":"#fff"},{"offset":0.5868,"color":"#000"},{"offset":0.5894,"color":"#000"},{"offset":0.5894,"color":"#fff"},
{"offset":0.6080,"color":"#fff"},{"offset":0.6080,"color":"#000"},{"offset":0.6106,"color":"#000"},{"offset":0.6106,"color":"#fff"},
{"offset":0.6292,"color":"#fff"},{"offset":0.6292,"color":"#000"},{"offset":0.6318,"color":"#000"},{"offset":0.6318,"color":"#fff"},
{"offset":0.6504,"color":"#fff"},{"offset":0.6504,"color":"#000"},{"offset":0.6530,"color":"#000"},{"offset":0.6530,"color":"#fff"},
{"offset":0.6716,"color":"#fff"},{"offset":0.6716,"color":"#000"},{"offset":0.6742,"color":"#000"},{"offset":0.6742,"color":"#fff"},
{"offset":0.6928,"color":"#fff"},{"offset":0.6928,"color":"#000"},{"offset":0.6954,"color":"#000"},{"offset":0.6954,"color":"#fff"},
{"offset":0.7140,"color":"#fff"},{"offset":0.7140,"color":"#000"},{"offset":0.7166,"color":"#000"},{"offset":0.7166,"color":"#fff"},
{"offset":0.7352,"color":"#fff"},{"offset":0.7352,"color":"#000"},{"offset":0.7378,"color":"#000"},{"offset":0.7378,"color":"#fff"},
{"offset":0.7564,"color":"#fff"},{"offset":0.7564,"color":"#000"},{"offset":0.7590,"color":"#000"},{"offset":0.7590,"color":"#fff"},
{"offset":0.7776,"color":"#fff"},{"offset":0.7776,"color":"#000"},{"offset":0.7802,"color":"#000"},{"offset":0.7802,"color":"#fff"},
{"offset":0.7988,"color":"#fff"},{"offset":0.7988,"color":"#000"},{"offset":0.8014,"color":"#000"},{"offset":0.8014,"color":"#fff"},
{"offset":0.8200,"color":"#fff"},{"offset":0.8200,"color":"#000"},{"offset":0.8226,"color":"#000"},{"offset":0.8226,"color":"#fff"},
{"offset":0.8412,"color":"#fff"},{"offset":0.8412,"color":"#000"},{"offset":0.8438,"color":"#000"},{"offset":0.8438,"color":"#fff"},
{"offset":0.8624,"color":"#fff"},{"offset":0.8624,"color":"#000"},{"offset":0.8650,"color":"#000"},{"offset":0.8650,"color":"#fff"},
{"offset":0.8836,"color":"#fff"},{"offset":0.8836,"color":"#000"},{"offset":0.8862,"color":"#000"},{"offset":0.8862,"color":"#fff"},
{"offset":0.9048,"color":"#fff"},{"offset":0.9048,"color":"#000"},{"offset":0.9074,"color":"#000"},{"offset":0.9074,"color":"#fff"},
{"offset":0.9260,"color":"#fff"},{"offset":0.9260,"color":"#000"},{"offset":0.9286,"color":"#000"},{"offset":0.9286,"color":"#fff"},
{"offset":0.9472,"color":"#fff"},{"offset":0.9472,"color":"#000"},{"offset":0.9498,"color":"#000"},{"offset":0.9498,"color":"#fff"},
{"offset":0.9684,"color":"#fff"},{"offset":0.9684,"color":"#000"},{"offset":0.9710,"color":"#000"},{"offset":0.9710,"color":"#fff"},
{"offset":0.9896,"color":"#fff"},{"offset":0.9896,"color":"#000"},{"offset":0.9922,"color":"#000"},{"offset":0.9922,"color":"#fff"}
]}},
 "encoding": {
  "x": {"field": "group", "type": "nominal", "scale": {"domain": ["Gesund","CF","Hypothyreot"], "paddingInner": 0.4046, "paddingOuter": 0.462, "align": 0.545}, "axis": null},
  "xOffset": {"field": "series", "type": "nominal", "scale": {"paddingInner": 0.3077, "paddingOuter": 0.1538}},
  "y": {"datum": 0.55, "type": "quantitative", "scale": {"domain": [0, 0.55], "nice": false, "zero": true}, "axis": null},
  "y2": {"datum": 0}
 }},
{"transform": [{"filter": "datum.group != 'Gesund'"}],
 "mark": {"type": "bar", "fill": "#fff", "stroke": "#fff", "strokeWidth": 1},
 "encoding": {
  "x": {"field": "group", "type": "nominal", "scale": {"domain": ["Gesund","CF","Hypothyreot"], "paddingInner": 0.4046, "paddingOuter": 0.462, "align": 0.545}, "axis": null},
  "xOffset": {"field": "series", "type": "nominal", "scale": {"paddingInner": 0.3077, "paddingOuter": 0.1538}},
  "y": {"field": "mean", "type": "quantitative", "scale": {"domain": [0, 0.55], "nice": false, "zero": true}, "axis": null},
  "y2": {"datum": 0.55}
 }},
{"mark": {"type": "bar", "filled": false, "stroke": "#000", "strokeWidth": 1.3},
 "encoding": {
  "x": {"field": "group", "type": "nominal", "scale": {"domain": ["Gesund","CF","Hypothyreot"], "paddingInner": 0.4046, "paddingOuter": 0.462, "align": 0.545},
        "axis": {"orient": "bottom", "title": "max. Belastung", "labelExpr": "datum.value == 'Hypothyreot' ? '' : datum.value", "labelFontSize": 27, "labelBaseline": "middle", "labelPadding": 38, "labelAngle": 0, "ticks": false, "tickSize": 0, "domainColor": "#333", "domainWidth": 1.5, "titleFontSize": 30, "titleBaseline": "alphabetic", "titleY": 118, "titleX": 222}},
  "xOffset": {"field": "series", "type": "nominal", "scale": {"paddingInner": 0.3077, "paddingOuter": 0.1538}},
  "y": {"field": "mean", "type": "quantitative", "scale": {"domain": [0, 0.55], "nice": false, "zero": true}, "axis": null}
 }},
{"mark": {"type": "rule", "color": "#000", "strokeWidth": 1.2},
 "encoding": {
  "x": {"field": "group", "type": "nominal", "scale": {"domain": ["Gesund","CF","Hypothyreot"], "paddingInner": 0.4046, "paddingOuter": 0.462, "align": 0.545}, "axis": null},
  "xOffset": {"field": "series", "type": "nominal", "scale": {"paddingInner": 0.3077, "paddingOuter": 0.1538}},
  "y": {"field": "mean", "type": "quantitative", "scale": {"domain": [0, 0.55], "nice": false, "zero": true}, "axis": null},
  "y2": {"field": "upper"}
 }},
{"mark": {"type": "tick", "color": "#000", "size": 11, "thickness": 1.2, "orient": "horizontal"},
 "encoding": {
  "x": {"field": "group", "type": "nominal", "scale": {"domain": ["Gesund","CF","Hypothyreot"], "paddingInner": 0.4046, "paddingOuter": 0.462, "align": 0.545}, "axis": null},
  "xOffset": {"field": "series", "type": "nominal", "scale": {"paddingInner": 0.3077, "paddingOuter": 0.1538}},
  "y": {"field": "upper", "type": "quantitative", "scale": {"domain": [0, 0.55], "nice": false, "zero": true}, "axis": null}
 }},
{"transform": [{"filter": "datum.group == 'Hypothyreot' && datum.series == 2"}],
 "mark": {"type": "text", "text": ["Hypo-", "thyreot"], "lineHeight": 29, "baseline": "middle", "align": "center", "dy": 24, "fontSize": 27, "color": "#000"},
 "encoding": {
  "x": {"field": "group", "type": "nominal", "scale": {"domain": ["Gesund","CF","Hypothyreot"], "paddingInner": 0.4046, "paddingOuter": 0.462, "align": 0.545}, "axis": null},
  "y": {"datum": 0, "type": "quantitative", "scale": {"domain": [0, 0.55], "nice": false, "zero": true}, "axis": null}
 }},
{"mark": {"type": "rule", "color": "#333", "strokeWidth": 1.5, "strokeCap": "square"},
 "encoding": {
  "y": {"datum": 0.55, "type": "quantitative", "scale": {"domain": [0, 0.55], "nice": false, "zero": true}, "axis": null}
 }}
]
}
]
}
